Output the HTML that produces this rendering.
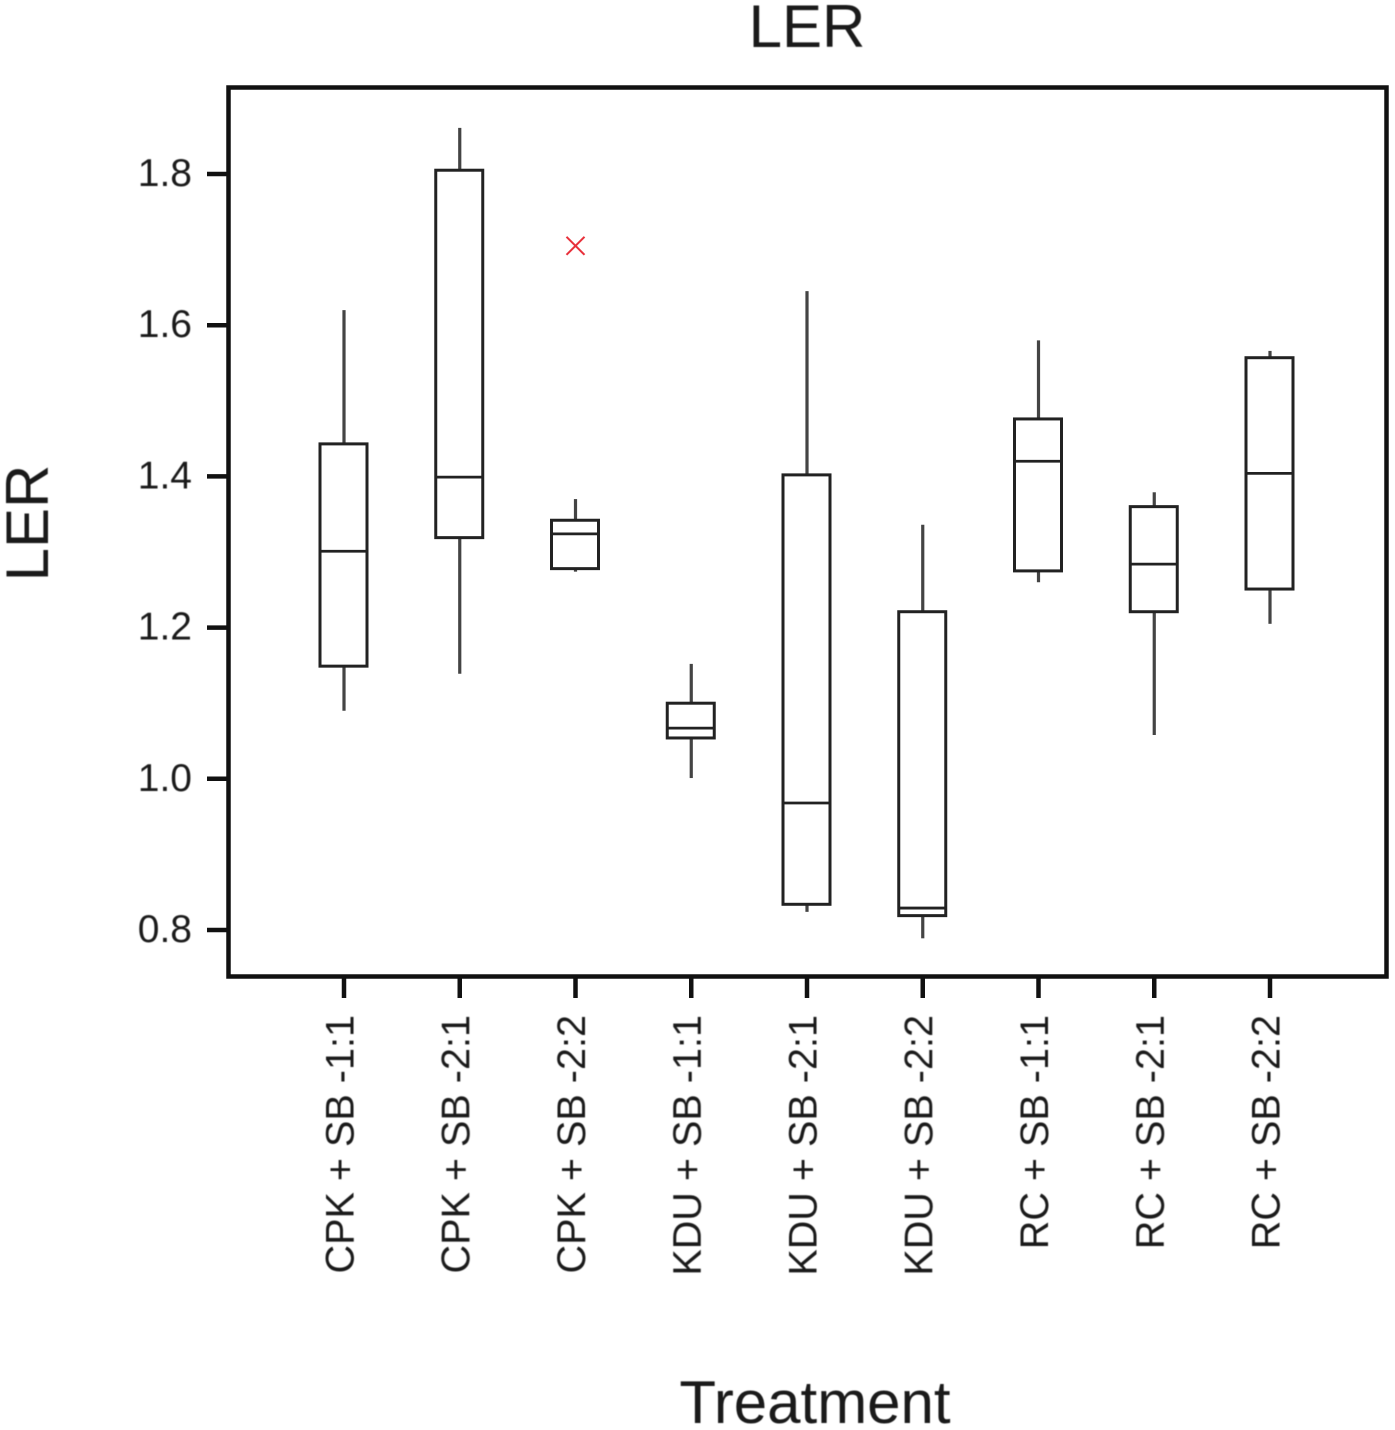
<!DOCTYPE html>
<html>
<head>
<meta charset="utf-8">
<title>LER by Treatment</title>
<style>
html,body{margin:0;padding:0;background:#fff;}
#chart{display:block;width:1395px;height:1430px;}
text{font-family:"Liberation Sans",sans-serif;fill:#1a1a1a;filter:blur(0.4px);}
</style>
</head>
<body>
<svg id="chart" width="1395" height="1430" viewBox="0 0 1395 1430" xmlns="http://www.w3.org/2000/svg">
<rect x="0" y="0" width="1395" height="1430" fill="#fff"></rect>
<text x="807" y="47" font-size="60" text-anchor="middle">LER</text>
<text x="0" y="0" font-size="60" text-anchor="middle" transform="translate(48 523) rotate(-90)">LER</text>
<text x="815" y="1423" font-size="60" text-anchor="middle">Treatment</text>
<rect x="228.5" y="87.5" width="1158" height="889" fill="none" stroke="#111" stroke-width="4.5"></rect>
<g id="layer"></g>
</svg>
<script>
const categories = ["CPK + SB -1:1","CPK + SB -2:1","CPK + SB -2:2","KDU + SB -1:1","KDU + SB -2:1","KDU + SB -2:2","RC + SB -1:1","RC + SB -2:1","RC + SB -2:2"];
const whiskerHigh = [1.62,1.861,1.37,1.152,1.645,1.336,1.58,1.379,1.566];
const q3 = [1.443,1.805,1.342,1.10,1.402,1.221,1.476,1.36,1.557];
const median = [1.301,1.399,1.324,1.067,0.968,0.829,1.42,1.284,1.404];
const q1 = [1.149,1.319,1.278,1.054,0.834,0.819,1.275,1.221,1.251];
const whiskerLow = [1.09,1.139,1.274,1.001,0.824,0.789,1.26,1.058,1.205];
const outlierCategory = [2];
const outlierValue = [1.705];
const yTicks = [0.8,1.0,1.2,1.4,1.6,1.8];

const NS = "http://www.w3.org/2000/svg";
const layer = document.getElementById("layer");
function yScale(v){ return 930 - (v - 0.8) * 756; }
function xScale(i){ return 344 + i * 115.75; }
function line(x1,y1,x2,y2,color,width){
  const el = document.createElementNS(NS,"line");
  el.setAttribute("x1",x1);
  el.setAttribute("y1",y1);
  el.setAttribute("x2",x2);
  el.setAttribute("y2",y2);
  el.setAttribute("stroke",color);
  el.setAttribute("stroke-width",width);
  layer.appendChild(el);
  return el;
}
yTicks.forEach(function(t){
  const tick = line(207,yScale(t),228,yScale(t),"#111",4.5);
  
  
  const label = document.createElementNS(NS,"text");
  label.setAttribute("x",192);
  label.setAttribute("y",yScale(t)+12);
  label.setAttribute("font-size",39);
  label.setAttribute("text-anchor","end");
  
  
  label.textContent = t.toFixed(1);
  layer.appendChild(label);
});
categories.forEach(function(name,i){
  const cx = xScale(i);
  const tick = line(cx,977,cx,998,"#111",4.5);
  
  
  const label = document.createElementNS(NS,"text");
  label.setAttribute("font-size",39.6);
  label.setAttribute("text-anchor","end");
  label.setAttribute("transform","translate("+(cx+9.5)+" 1015) rotate(-90)");
  
  
  label.textContent = name;
  layer.appendChild(label);
  const upper = line(cx,yScale(whiskerHigh[i]),cx,yScale(q3[i]),"#444",3.2);
  
  
  const lower = line(cx,yScale(q1[i]),cx,yScale(whiskerLow[i]),"#444",3.2);
  
  
  const box = document.createElementNS(NS,"rect");
  box.setAttribute("x",cx-24);
  box.setAttribute("y",yScale(q3[i]));
  box.setAttribute("width",47);
  box.setAttribute("height",yScale(q1[i])-yScale(q3[i]));
  box.setAttribute("fill","none");
  box.setAttribute("stroke","#222");
  box.setAttribute("stroke-width",3);
  
  
  layer.appendChild(box);
  const med = line(cx-24,yScale(median[i]),cx+23,yScale(median[i]),"#222",2.8);
  
  
});
outlierValue.forEach(function(v,k){
  const cx = xScale(outlierCategory[k]);
  const cy = yScale(v);
  const a = line(cx-9,cy-9,cx+9,cy+9,"#e8303a",2);
  
  
  const b = line(cx-9,cy+9,cx+9,cy-9,"#e8303a",2);
  
  
});
</script>
</body>
</html>
